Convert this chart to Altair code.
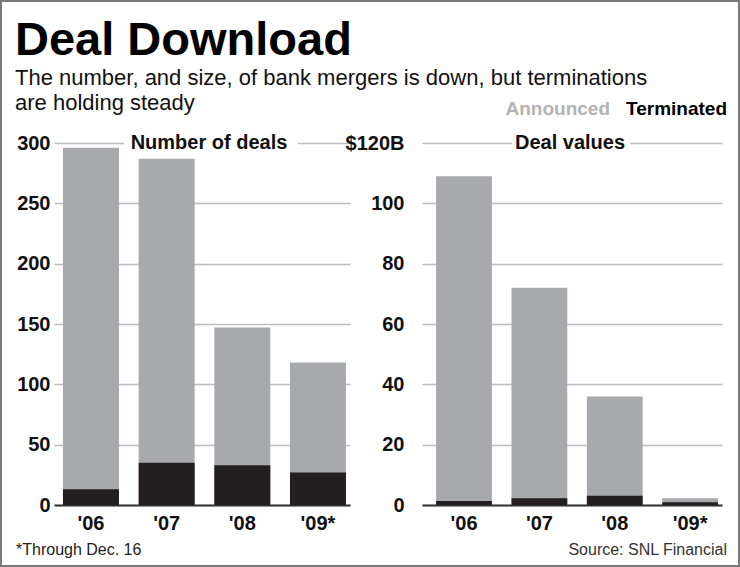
import altair as alt
import pandas as pd

years = ["'06", "'07", "'08", "'09*"]
deals_announced = [296, 287, 147, 118]
deals_terminated = [13, 35, 33, 27]
values_announced = [109, 72, 36, 2.2]
values_terminated = [1.3, 2.2, 3.1, 0.9]

title_text = "Deal Download"
subtitle_lines = ["The number, and size, of bank mergers is down, but terminations",
                  "are holding steady"]
footnote = "*Through Dec. 16"
source = "Source: SNL Financial"

BODY = "Liberation Sans, Arial, sans-serif"
GRAY = "#a7a9ac"
BLACK = "#231f20"

left_df = pd.DataFrame({"year": years, "announced": deals_announced, "terminated": deals_terminated})
right_df = pd.DataFrame({"year": years, "announced": values_announced, "terminated": values_terminated})
one = pd.DataFrame({"k": [0]})

H = 362


def panel(df, width, domain, tick_vals, label_expr, label_pad, panel_title, title_x, gap_x0, gap_x1,
          p_outer, align):
    xscale = alt.Scale(paddingInner=0.26, paddingOuter=p_outer, align=align)
    xaxis = alt.Axis(labelAngle=0, labelFont=BODY, labelFontWeight="bold", labelFontSize=20,
                     labelColor="#111", ticks=False, domainColor="#333", domainWidth=2,
                     labelPadding=8)
    yscale = alt.Scale(domain=domain, nice=False)
    yaxis = alt.Axis(values=tick_vals, labelExpr=label_expr, labelFont=BODY,
                     labelFontWeight="bold", labelFontSize=20, labelColor="#111",
                     ticks=False, domain=False, gridColor="#bdbdbd", gridWidth=1.5,
                     labelPadding=label_pad)
    base = alt.Chart(df)
    ann = base.mark_bar(color=GRAY).encode(
        x=alt.X("year:N", sort=years, title=None, scale=xscale, axis=xaxis),
        y=alt.Y("announced:Q", title=None, scale=yscale, axis=yaxis),
    )
    term = base.mark_bar(color=BLACK).encode(
        x=alt.X("year:N", sort=years, title=None, scale=xscale, axis=xaxis),
        y=alt.Y("terminated:Q", title=None, scale=yscale, axis=yaxis),
    )
    gap = alt.Chart(one).mark_rect(color="white").encode(
        x=alt.value(gap_x0), x2=alt.value(gap_x1), y=alt.value(-8), y2=alt.value(4))
    ptitle = alt.Chart(one).mark_text(font=BODY, fontWeight="bold", fontSize=20, color="#111",
                                      baseline="middle", align="center").encode(
        x=alt.value(title_x), y=alt.value(0), text=alt.value(panel_title))
    return [ann, term, gap, ptitle], width


left_layers, wl = panel(left_df, 296, [0, 300], [0, 50, 100, 150, 200, 250, 300],
                        "datum.label", 4, "Number of deals", 155, 70, 244, 0.086, 0.69)
right_layers, wr = panel(right_df, 300, [0, 120], [0, 20, 40, 60, 80, 100, 120],
                         "datum.value == 120 ? '$120B' : datum.label", 18, "Deal values", 148, 90, 208,
                         0.12, 0.78)


def txt(s, x, y, size, weight="normal", color="#111", align="left"):
    return alt.Chart(one).mark_text(font=BODY, fontSize=size, fontWeight=weight, color=color,
                                    align=align, baseline="alphabetic").encode(
        x=alt.value(x), y=alt.value(y), text=alt.value(s))


border = alt.Chart(one).mark_rect(fillOpacity=0, stroke="#7a7a7a", strokeWidth=2).encode(
    x=alt.value(-53), x2=alt.value(685), y=alt.value(-142), y2=alt.value(423))

left_extra = [
    txt(title_text, -39, -88, 47, "bold", "#000"),
    txt(subtitle_lines[0], -39, -58, 22),
    txt(subtitle_lines[1], -39, -33, 22),
    txt(footnote, -38, 412, 16, color="#222"),
    border,
]
right_extra = [
    txt("Announced", 188, -28, 19, "bold", "#b3b3b3", align="right"),
    txt("Terminated", 305, -28, 19, "bold", "#000", align="right"),
    txt(source, 305, 412, 16, color="#333", align="right"),
]

left = alt.layer(*left_layers, *left_extra).properties(width=wl, height=H)
right = alt.layer(*right_layers, *right_extra).properties(width=wr, height=H)

chart = alt.hconcat(left, right, spacing=72, bounds="flush").properties(
    padding=0, background="white"
).configure_view(strokeWidth=0)

chart.save("out.html", embed_options={"renderer": "svg", "actions": False})
